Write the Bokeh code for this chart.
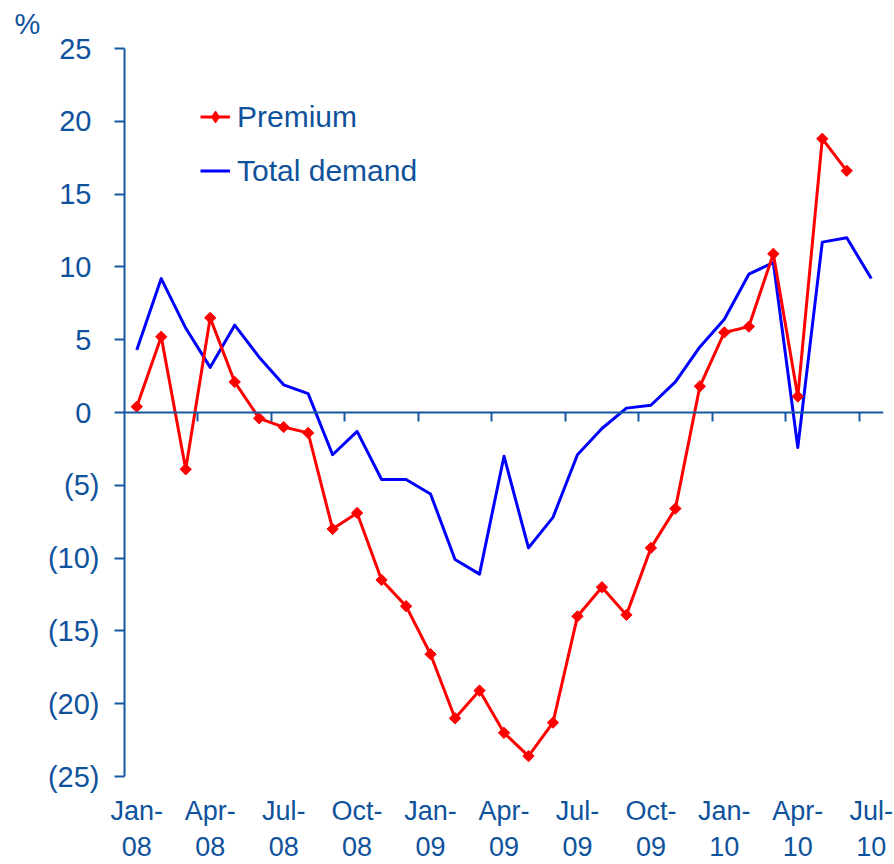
import math
from bokeh.plotting import figure
from bokeh.models import Range1d, LinearAxis, FixedTicker, Legend, LegendItem
from bokeh.embed import file_html
from bokeh.resources import INLINE

# ---- data ----
months = ["Jan-08", "Feb-08", "Mar-08", "Apr-08", "May-08", "Jun-08",
          "Jul-08", "Aug-08", "Sep-08", "Oct-08", "Nov-08", "Dec-08",
          "Jan-09", "Feb-09", "Mar-09", "Apr-09", "May-09", "Jun-09",
          "Jul-09", "Aug-09", "Sep-09", "Oct-09", "Nov-09", "Dec-09",
          "Jan-10", "Feb-10", "Mar-10", "Apr-10", "May-10", "Jun-10",
          "Jul-10"]

premium = [0.4, 5.2, -3.9, 6.5, 2.1, -0.4, -1.0, -1.4, -8.0, -6.9, -11.5, -13.3,
           -16.6, -21.0, -19.1, -22.0, -23.6, -21.3, -14.0, -12.0, -13.9, -9.3, -6.6, 1.8,
           5.5, 5.9, 10.9, 1.1, 18.8, 16.6]

total_demand = [4.3, 9.2, 5.8, 3.1, 6.0, 3.8, 1.9, 1.3, -2.9, -1.3, -4.6, -4.6,
                -5.6, -10.1, -11.1, -3.0, -9.3, -7.2, -2.9, -1.1, 0.3, 0.5, 2.1, 4.5,
                6.4, 9.5, 10.3, -2.4, 11.7, 12.0, 9.2]

y_ticks = [-25, -20, -15, -10, -5, 0, 5, 10, 15, 20, 25]
y_tick_labels = ["(25)", "(20)", "(15)", "(10)", "(5)", "0\u00a0", "5\u00a0",
                 "10\u00a0", "15\u00a0", "20\u00a0", "25\u00a0"]

series_names = ["Premium", "Total demand"]
unit_label = "%"

# ---- style ----
AX = "#15589f"
TXT = "#0f529c"
FONT = "Liberation Sans"
RED = "#ff0000"
BLUE = "#0000ff"

p = figure(width=894, height=864, output_backend="svg", toolbar_location=None,
           x_range=Range1d(0, len(months)), y_range=Range1d(-25, 25),
           x_axis_type=None, y_axis_type=None,
           min_border_left=124, min_border_right=11,
           min_border_top=48, min_border_bottom=88)
p.outline_line_color = None
p.background_fill_color = "white"
p.border_fill_color = "white"

# unit label at top-left
p.title.text = unit_label
p.title.align = "left"
p.title.offset = -110
p.title.vertical_align = "top"
p.title.text_font = FONT
p.title.text_font_size = "29px"
p.title.text_font_style = "normal"
p.title.text_color = TXT
p.title.standoff = 14

# y axis
yax = LinearAxis(ticker=FixedTicker(ticks=y_ticks),
                 major_label_overrides={t: l for t, l in zip(y_ticks, y_tick_labels)})
yax.axis_line_color = AX
yax.axis_line_width = 2
yax.major_tick_line_color = AX
yax.major_tick_line_width = 2
yax.major_tick_out = 10
yax.major_tick_in = 0
yax.minor_tick_out = 0
yax.minor_tick_in = 0
yax.major_label_text_font = FONT
yax.major_label_text_font_size = "29px"
yax.major_label_text_color = TXT
yax.major_label_standoff = 15
p.add_layout(yax, "left")

# bottom labels (quarter starts)
label_pos = [i + 0.5 for i in range(len(months)) if i % 3 == 0]
label_txt = {i + 0.5: months[i].replace("-", "-\n") for i in range(len(months)) if i % 3 == 0}
xlab = LinearAxis(ticker=FixedTicker(ticks=label_pos), major_label_overrides=label_txt)
xlab.axis_line_color = None
xlab.major_tick_line_color = None
xlab.minor_tick_line_color = None
xlab.major_tick_out = 0
xlab.major_tick_in = 0
xlab.minor_tick_out = 0
xlab.minor_tick_in = 0
xlab.major_label_text_font = FONT
xlab.major_label_text_font_size = "27px"
xlab.major_label_text_color = TXT
xlab.major_label_text_line_height = 1.2
xlab.major_label_standoff = 19
p.add_layout(xlab, "below")

# zero axis with quarter tick marks
qtr_ticks = [i for i in range(len(months)) if i % 3 == 0 and i > 0]
x0 = LinearAxis(fixed_location=0, ticker=FixedTicker(ticks=qtr_ticks),
                major_label_overrides={t: "" for t in qtr_ticks})
x0.axis_line_color = AX
x0.axis_line_width = 2
x0.major_tick_line_color = AX
x0.major_tick_line_width = 2
x0.major_tick_out = 9
x0.major_tick_in = 0
x0.minor_tick_out = 0
x0.minor_tick_in = 0
x0.major_label_text_font_size = "1px"
x0.major_label_text_alpha = 0
p.add_layout(x0, "below")

# series
x_td = [i + 0.5 for i in range(len(total_demand))]
x_pr = [i + 0.5 for i in range(len(premium))]
r_td = p.line(x_td, total_demand, line_color=BLUE, line_width=3, line_join="round")
r_prl = p.line(x_pr, premium, line_color=RED, line_width=3, line_join="round")
r_prm = p.scatter(x_pr, premium, marker="square", size=8, angle=math.pi / 4,
                  fill_color=RED, line_color=RED)
# diamond used for the legend swatch (zero size in the plot area)
r_prd = p.scatter(x_pr, premium, marker="diamond", size=0,
                  fill_color=RED, line_color=RED)

legend = Legend(items=[LegendItem(label=series_names[0], renderers=[r_prl, r_prd]),
                       LegendItem(label=series_names[1], renderers=[r_td])],
                location=(76, 588))
legend.label_text_font = FONT
legend.label_text_font_size = "30px"
legend.label_text_color = TXT
legend.glyph_width = 30
legend.glyph_height = 35
legend.label_height = 35
legend.spacing = 19
legend.label_standoff = 7
legend.padding = 0
legend.margin = 0
legend.border_line_color = None
legend.background_fill_alpha = 0
p.add_layout(legend)

open("out.html", "w").write(file_html(p, INLINE))
